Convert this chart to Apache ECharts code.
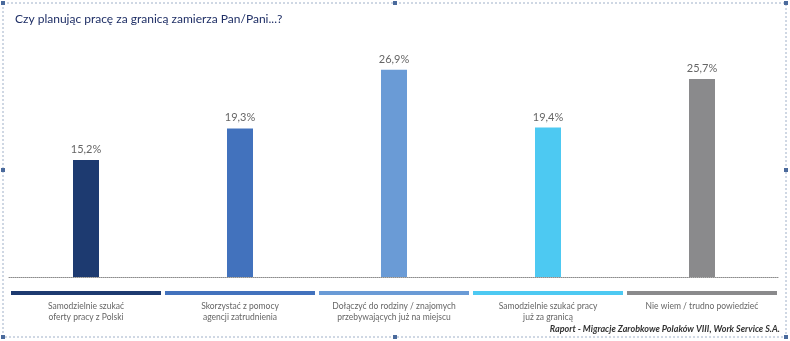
<!DOCTYPE html>
<html><head><meta charset="utf-8">
<script src="https://cdn.jsdelivr.net/npm/echarts@6/dist/echarts.min.js"></script>
<style>html,body{margin:0;padding:0;background:#fff}#c{width:790px;height:341px}</style>
</head><body><div id="c"></div>
<script>
const categories = [
  "Samodzielnie szukać\noferty pracy z Polski",
  "Skorzystać z pomocy\nagencji zatrudnienia",
  "Dołączyć do rodziny / znajomych\nprzebywających już na miejscu",
  "Samodzielnie szukać pracy\njuż za granicą",
  "Nie wiem / trudno powiedzieć"
];
const values = [15.2, 19.3, 26.9, 19.4, 25.7];
const colors = ["#1d3a70", "#4272bd", "#6a9bd6", "#4dc9f2", "#8a8a8c"];
const stripValues = [1, 1, 1, 1, 1];
const title = "Czy planując pracę za granicą zamierza Pan/Pani...?";
const source = "Raport - Migracje Zarobkowe Polaków VIII, Work Service S.A.";

const chart = echarts.init(document.getElementById('c'));
const handles = [[3,3],[395,3],[786,3],[3,170],[786,170],[3,337],[395,337],[786,337]];
chart.setOption({
  animation: false,
  textStyle: { fontFamily: 'Lato, "Noto Sans", sans-serif' },
  title: {
    text: title, left: 10, top: 8,
    textStyle: { fontSize: 12, fontWeight: 'normal', color: '#1f2f66', fontFamily: 'Lato, "Noto Sans", sans-serif' }
  },
  grid: [
    { left: 9, right: 11, top: 46, height: 231 },
    { left: 9, right: 11, top: 291, height: 4 }
  ],
  xAxis: [
    { type: 'category', gridIndex: 0, data: categories,
      axisLine: { lineStyle: { color: '#8c8c8c', type: 'dotted', width: 1 } },
      axisTick: { show: false }, axisLabel: { show: false } },
    { type: 'category', gridIndex: 1, data: categories,
      axisLine: { show: false }, axisTick: { show: false },
      axisLabel: { color: '#666', fontSize: 8.5, lineHeight: 11, margin: 6, interval: 0 } }
  ],
  yAxis: [
    { type: 'value', gridIndex: 0, min: 0, max: 30, show: false },
    { type: 'value', gridIndex: 1, min: 0, max: 1, show: false }
  ],
  series: [
    { type: 'bar', xAxisIndex: 0, yAxisIndex: 0, barWidth: 26,
      data: values.map((v, i) => ({ value: v, itemStyle: { color: colors[i] } })),
      label: { show: true, position: 'top', distance: 5, color: '#666', fontSize: 11,
        formatter: p => p.value.toFixed(1).replace('.', ',') + '%' } },
    { type: 'bar', xAxisIndex: 1, yAxisIndex: 1, barWidth: 150,
      data: stripValues.map((v, i) => ({ value: v, itemStyle: { color: colors[i] } })) }
  ],
  graphic: [
    { type: 'rect', shape: { x: 3, y: 3, width: 783, height: 334 }, silent: true,
      style: { fill: 'none', stroke: '#9fb0c8', lineWidth: 1, lineDash: [2, 2] } },
    ...handles.map(h => ({ type: 'rect', shape: { x: h[0] - 2, y: h[1] - 2, width: 4, height: 4 },
      silent: true, style: { fill: '#4a6a9c' } })),
    { type: 'text', right: 10, top: 325, silent: true,
      style: { text: source, font: 'italic bold 9px Lato, "Noto Sans", sans-serif', fill: '#333', textAlign: 'right' } }
  ]
});
</script></body></html>
